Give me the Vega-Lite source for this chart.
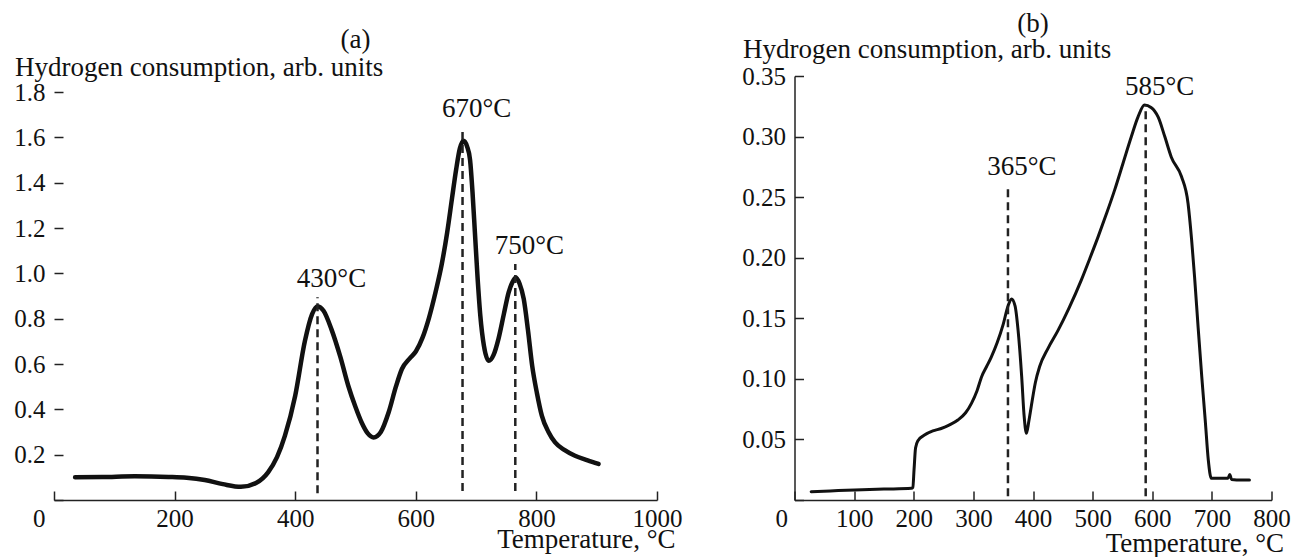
{
  "$schema": "https://vega.github.io/schema/vega-lite/v6.json",
  "autosize": {"type": "pad"},
  "padding": {"left": 13, "top": 10, "right": 5, "bottom": 5},
  "background": "white",
  "bounds": "flush",
  "spacing": 137.5,
  "config": {
    "view": {"stroke": null},
    "font": "Liberation Serif",
    "axis": {
      "labelFont": "Liberation Serif", "labelFontSize": 25, "labelColor": "#111",
      "titleFont": "Liberation Serif", "titleFontSize": 27, "titleFontWeight": "normal", "titleColor": "#111",
      "domainColor": "#222", "domainWidth": 1.5, "tickColor": "#222", "tickWidth": 1.5, "tickSize": -9,
      "grid": false, "labelFlush": false, "labelOverlap": false
    },
    "axisX": {"labelPadding": 15},
    "axisY": {"labelPadding": 18},
    "title": {"font": "Liberation Serif", "fontSize": 27, "fontWeight": "normal", "color": "#111"}
  },
  "datasets": {
    "curveA": [
      {"T": 35, "v": 0.100}, {"T": 80, "v": 0.101}, {"T": 134, "v": 0.105}, {"T": 190, "v": 0.102},
      {"T": 220, "v": 0.098}, {"T": 250, "v": 0.088}, {"T": 280, "v": 0.070}, {"T": 310, "v": 0.058},
      {"T": 335, "v": 0.075}, {"T": 355, "v": 0.122}, {"T": 370, "v": 0.19}, {"T": 383, "v": 0.284},
      {"T": 400, "v": 0.46}, {"T": 416, "v": 0.70}, {"T": 428, "v": 0.82}, {"T": 437, "v": 0.854},
      {"T": 447, "v": 0.835}, {"T": 460, "v": 0.754}, {"T": 475, "v": 0.63}, {"T": 488, "v": 0.504},
      {"T": 500, "v": 0.41}, {"T": 510, "v": 0.343}, {"T": 520, "v": 0.295}, {"T": 530, "v": 0.276},
      {"T": 542, "v": 0.30}, {"T": 555, "v": 0.387}, {"T": 567, "v": 0.50}, {"T": 577, "v": 0.578},
      {"T": 590, "v": 0.625}, {"T": 600, "v": 0.655}, {"T": 611, "v": 0.715}, {"T": 622, "v": 0.805},
      {"T": 633, "v": 0.92}, {"T": 643, "v": 1.04}, {"T": 652, "v": 1.18}, {"T": 660, "v": 1.33},
      {"T": 667, "v": 1.46}, {"T": 673, "v": 1.55}, {"T": 679, "v": 1.585}, {"T": 685, "v": 1.56},
      {"T": 690, "v": 1.50}, {"T": 694, "v": 1.36}, {"T": 698, "v": 1.181}, {"T": 702, "v": 1.00},
      {"T": 707, "v": 0.813}, {"T": 713, "v": 0.68}, {"T": 721, "v": 0.614}, {"T": 729, "v": 0.64},
      {"T": 737, "v": 0.71}, {"T": 746, "v": 0.82}, {"T": 754, "v": 0.916}, {"T": 760, "v": 0.96},
      {"T": 766, "v": 0.982}, {"T": 772, "v": 0.955}, {"T": 779, "v": 0.887}, {"T": 786, "v": 0.75},
      {"T": 793, "v": 0.592}, {"T": 801, "v": 0.47}, {"T": 809, "v": 0.372}, {"T": 820, "v": 0.30},
      {"T": 831, "v": 0.254}, {"T": 847, "v": 0.22}, {"T": 864, "v": 0.195}, {"T": 885, "v": 0.175},
      {"T": 903, "v": 0.159}
    ],
    "curveB": [
      {"T": 28, "v": 0.0069}, {"T": 60, "v": 0.0075}, {"T": 101, "v": 0.0083}, {"T": 150, "v": 0.0090},
      {"T": 196, "v": 0.0096}, {"T": 198.5, "v": 0.0105}, {"T": 200.5, "v": 0.025}, {"T": 203, "v": 0.043},
      {"T": 207, "v": 0.049}, {"T": 218, "v": 0.0536}, {"T": 232, "v": 0.057}, {"T": 246, "v": 0.059},
      {"T": 260, "v": 0.062}, {"T": 274, "v": 0.066}, {"T": 287, "v": 0.072}, {"T": 297, "v": 0.080},
      {"T": 306, "v": 0.090}, {"T": 314, "v": 0.102}, {"T": 322, "v": 0.110}, {"T": 330, "v": 0.118},
      {"T": 340, "v": 0.130}, {"T": 350, "v": 0.145}, {"T": 358, "v": 0.160}, {"T": 364, "v": 0.166},
      {"T": 370, "v": 0.160}, {"T": 375, "v": 0.140}, {"T": 381, "v": 0.102}, {"T": 385, "v": 0.070},
      {"T": 389, "v": 0.055}, {"T": 393, "v": 0.065}, {"T": 397, "v": 0.077}, {"T": 404, "v": 0.097},
      {"T": 411, "v": 0.110}, {"T": 425, "v": 0.125}, {"T": 442, "v": 0.140}, {"T": 460, "v": 0.158},
      {"T": 481, "v": 0.1815}, {"T": 495, "v": 0.199}, {"T": 509, "v": 0.217}, {"T": 523, "v": 0.236},
      {"T": 537, "v": 0.256}, {"T": 551, "v": 0.278}, {"T": 565, "v": 0.300}, {"T": 576, "v": 0.316},
      {"T": 587, "v": 0.326}, {"T": 598, "v": 0.324}, {"T": 610, "v": 0.316}, {"T": 621, "v": 0.300},
      {"T": 632, "v": 0.283}, {"T": 649, "v": 0.267}, {"T": 660, "v": 0.245}, {"T": 666, "v": 0.215},
      {"T": 671, "v": 0.184}, {"T": 677, "v": 0.142}, {"T": 683, "v": 0.102}, {"T": 689, "v": 0.065},
      {"T": 694, "v": 0.033}, {"T": 699, "v": 0.018}, {"T": 710, "v": 0.018}, {"T": 727, "v": 0.018},
      {"T": 730, "v": 0.021}, {"T": 733, "v": 0.017}, {"T": 750, "v": 0.0165}, {"T": 763, "v": 0.0165}
    ],
    "peaksA": [
      {"label": "430°C", "T": 437, "low": 0.03, "high": 0.895},
      {"label": "670°C", "T": 677.5, "low": 0.04, "high": 1.644},
      {"label": "750°C", "T": 765, "low": 0.04, "high": 1.041}
    ],
    "peaksB": [
      {"label": "365°C", "T": 358, "low": 0.003, "high": 0.26},
      {"label": "585°C", "T": 589, "low": 0.003, "high": 0.326}
    ]
  },
  "hconcat": [
    {
      "width": 603,
      "height": 424,
      "title": {"text": "(a)", "anchor": "middle", "frame": "group", "baseline": "alphabetic", "offset": -22},
      "layer": [
        {
          "data": {"name": "curveA"},
          "mark": {"type": "line", "interpolate": "monotone", "color": "#111", "strokeWidth": 4.5, "strokeCap": "round"},
          "encoding": {
            "x": {"field": "T", "type": "quantitative",
              "scale": {"domain": [0, 1000], "nice": false},
              "axis": {"values": [0, 200, 400, 600, 800, 1000], "format": "d",
                "labelAlign": {"condition": {"test": "datum.value == 0", "value": "right"}, "value": "center"},
                "labelOffset": {"condition": {"test": "datum.value == 0", "value": -9}, "value": 0},
                "title": "Temperature, °C", "titleAlign": "right", "titleBaseline": "alphabetic",
                "titleX": 621, "titleY": 47}},
            "y": {"field": "v", "type": "quantitative",
              "scale": {"domain": [0, 1.8706], "nice": false},
              "axis": {"values": [0, 0.2, 0.4, 0.6, 0.8, 1.0, 1.2, 1.4, 1.6, 1.8],
                "labelExpr": "datum.value == 0 ? '' : format(datum.value, '.1f')",
                "domain": false,
                "title": "Hydrogen consumption, arb. units", "titleAngle": 0, "titleAlign": "left",
                "titleBaseline": "alphabetic", "titleX": -39.5, "titleY": -1}}
          }
        },
        {
          "mark": {"type": "rule", "color": "#222", "strokeWidth": 1.5},
          "encoding": {"x": {"datum": 0, "type": "quantitative"}, "y": {"datum": 0, "type": "quantitative"}, "y2": {"datum": 1.8}}
        },
        {
          "data": {"name": "peaksA"},
          "mark": {"type": "rule", "color": "#222", "strokeWidth": 2.5, "strokeDash": [8, 5]},
          "encoding": {
            "x": {"field": "T", "type": "quantitative"},
            "y": {"field": "low", "type": "quantitative"},
            "y2": {"field": "high"}
          }
        },
        {
          "data": {"name": "peaksA"},
          "mark": {"type": "text", "font": "Liberation Serif", "fontSize": 27, "color": "#111", "align": "center", "baseline": "alphabetic", "dx": 14, "dy": -10},
          "encoding": {
            "x": {"field": "T", "type": "quantitative"},
            "y": {"field": "high", "type": "quantitative"},
            "text": {"field": "label"}
          }
        }
      ]
    },
    {
      "width": 477,
      "height": 424,
      "title": {"text": "(b)", "anchor": "middle", "frame": "group", "baseline": "alphabetic", "offset": -24},
      "layer": [
        {
          "data": {"name": "curveB"},
          "mark": {"type": "line", "interpolate": "monotone", "color": "#111", "strokeWidth": 3, "strokeCap": "round"},
          "encoding": {
            "x": {"field": "T", "type": "quantitative",
              "scale": {"domain": [0, 800], "nice": false},
              "axis": {"values": [0, 100, 200, 300, 400, 500, 600, 700, 800], "format": "d",
                "labelAlign": {"condition": {"test": "datum.value == 0", "value": "right"}, "value": "center"},
                "labelOffset": {"condition": {"test": "datum.value == 0", "value": -7}, "value": 0},
                "title": "Temperature, °C", "titleAlign": "right", "titleBaseline": "alphabetic",
                "titleX": 489, "titleY": 51}},
            "y": {"field": "v", "type": "quantitative",
              "scale": {"domain": [0, 0.35], "nice": false},
              "axis": {"values": [0, 0.05, 0.1, 0.15, 0.2, 0.25, 0.3, 0.35],
                "labelExpr": "datum.value == 0 ? '' : format(datum.value, '.2f')",
                "title": "Hydrogen consumption, arb. units", "titleAngle": 0, "titleAlign": "left",
                "titleBaseline": "alphabetic", "titleX": -52, "titleY": -19}}
          }
        },
        {
          "data": {"name": "peaksB"},
          "mark": {"type": "rule", "color": "#222", "strokeWidth": 2.5, "strokeDash": [8, 5]},
          "encoding": {
            "x": {"field": "T", "type": "quantitative"},
            "y": {"field": "low", "type": "quantitative"},
            "y2": {"field": "high"}
          }
        },
        {
          "data": {"name": "peaksB"},
          "mark": {"type": "text", "font": "Liberation Serif", "fontSize": 27, "color": "#111", "align": "center", "baseline": "alphabetic", "dx": 14, "dy": -10},
          "encoding": {
            "x": {"field": "T", "type": "quantitative"},
            "y": {"field": "high", "type": "quantitative"},
            "text": {"field": "label"}
          }
        }
      ]
    }
  ]
}
